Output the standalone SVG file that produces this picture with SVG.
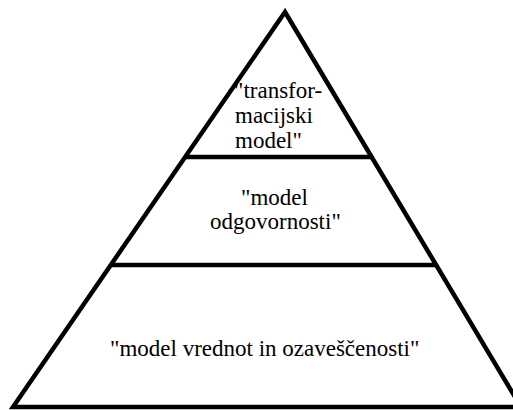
<svg xmlns="http://www.w3.org/2000/svg" width="513" height="410" viewBox="0 0 513 410">
<style>
.ln{stroke:#000;stroke-width:4.5;fill:none}
</style>
<rect width="513" height="410" fill="#fff"/>
<g id="connectors">
<polygon class="ln" points="285,12 13,407 521,407" stroke-linejoin="miter"/>
<line class="ln" x1="185" y1="157" x2="371" y2="157"/>
<line class="ln" x1="110" y1="265" x2="437" y2="265"/>
</g>
<text x="234" y="98" font-family="Liberation Serif" font-size="23">"transfor-</text>
<text x="235" y="123" font-family="Liberation Serif" font-size="23">macijski</text>
<text x="235" y="148" font-family="Liberation Serif" font-size="23">model"</text>
<text x="241" y="205" font-family="Liberation Serif" font-size="23">"model</text>
<text x="210" y="229" font-family="Liberation Serif" font-size="23">odgovornosti"</text>
<text x="110" y="356" font-family="Liberation Serif" font-size="23">"model vrednot in ozaveščenosti"</text>
</svg>
